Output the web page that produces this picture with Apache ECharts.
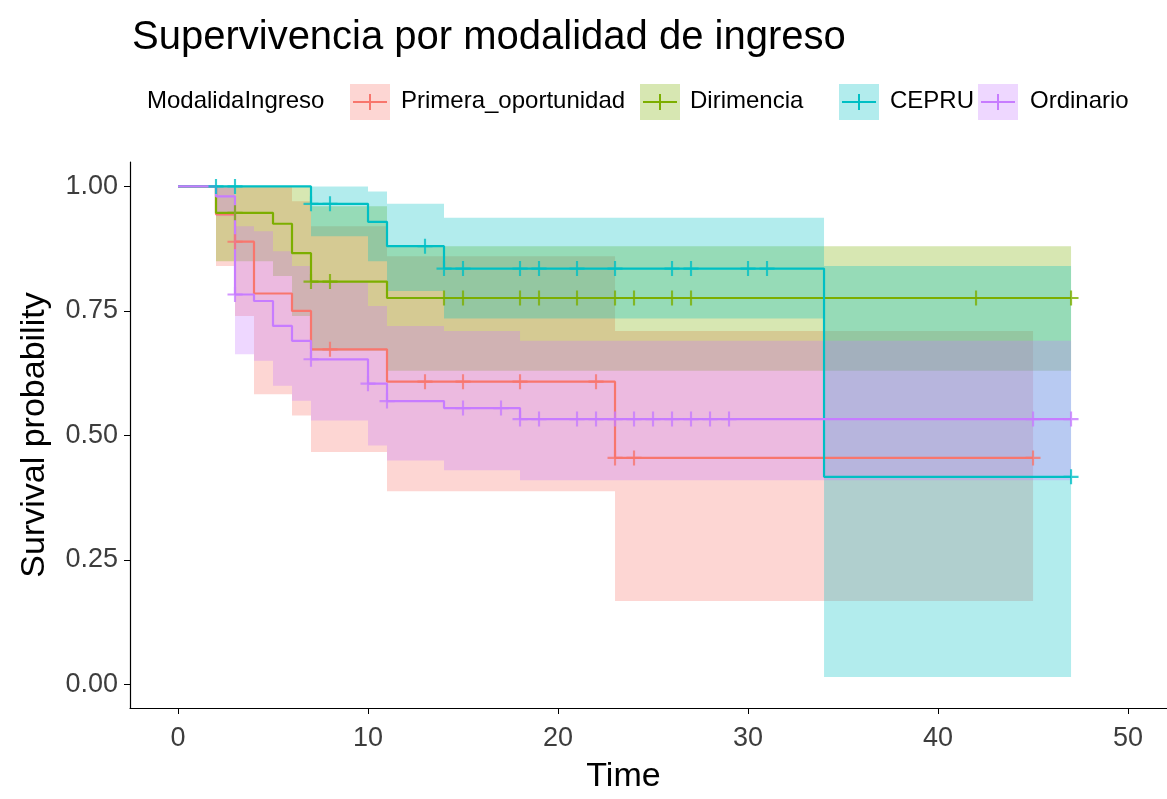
<!DOCTYPE html>
<html>
<head>
<meta charset="utf-8">
<script src="https://cdn.jsdelivr.net/npm/echarts@6/dist/echarts.min.js"></script>
<style>
html, body { margin: 0; padding: 0; background: #ffffff; }
#chart { width: 1167px; height: 799px; }
</style>
</head>
<body>
<div id="chart"></div>
<script>
// ---- Kaplan-Meier estimates by admission mode ----
const groupNames  = ['Primera_oportunidad', 'Dirimencia', 'CEPRU', 'Ordinario'];
const groupColors = ['#F8766D', '#7CAE00', '#00BFC4', '#C77CFF'];
const groupFills  = ['rgba(248,118,109,0.3)', 'rgba(124,174,0,0.3)', 'rgba(0,191,196,0.3)', 'rgba(199,124,255,0.3)'];

// Primera_oportunidad
const primeraTimes  = [0, 2, 3, 4, 6, 7, 11, 23];
const primeraSurv   = [1, 0.944, 0.889, 0.785, 0.75, 0.673, 0.608, 0.455];
const primeraLower  = [1, 0.84, 0.74, 0.583, 0.54, 0.467, 0.388, 0.168];
const primeraUpper  = [1, 1, 1, 1, 0.97, 0.92, 0.86, 0.71];
const primeraCensor = [3, 8, 13, 15, 18, 22, 23, 24, 45];
const primeraEnd    = 45;

// Dirimencia
const dirimenciaTimes  = [0, 2, 5, 6, 7, 11];
const dirimenciaSurv   = [1, 0.947, 0.925, 0.866, 0.809, 0.776];
const dirimenciaLower  = [1, 0.85, 0.82, 0.74, 0.67, 0.63];
const dirimenciaUpper  = [1, 1, 1, 1, 0.96, 0.88];
const dirimenciaCensor = [3, 7, 8, 14, 15, 18, 19, 21, 23, 24, 26, 27, 42, 47];
const dirimenciaEnd    = 47;

// CEPRU
const cepruTimes  = [0, 7, 10, 11, 14, 34];
const cepruSurv   = [1, 0.965, 0.929, 0.88, 0.835, 0.417];
const cepruLower  = [1, 0.90, 0.85, 0.79, 0.735, 0.015];
const cepruUpper  = [1, 1, 0.99, 0.965, 0.937, 0.84];
const cepruCensor = [2, 3, 7, 8, 13, 14, 15, 18, 19, 21, 23, 26, 27, 30, 31, 47];
const cepruEnd    = 47;

// Ordinario
const ordinarioTimes  = [0, 2, 3, 4, 5, 6, 7, 10, 11, 14, 18];
const ordinarioSurv   = [1, 0.98, 0.783, 0.77, 0.72, 0.69, 0.653, 0.604, 0.569, 0.555, 0.533];
const ordinarioLower  = [1, 0.94, 0.663, 0.65, 0.6, 0.57, 0.53, 0.48, 0.45, 0.43, 0.41];
const ordinarioUpper  = [1, 1, 0.92, 0.91, 0.87, 0.84, 0.81, 0.76, 0.72, 0.71, 0.69];
const ordinarioCensor = [3, 7, 10, 11, 15, 17, 18, 19, 21, 22, 23, 24, 25, 26, 27, 28, 29, 45, 47];
const ordinarioEnd    = 47;

// Axis ticks
const xTicks = [0, 10, 20, 30, 40, 50];
const yTicks = [0, 0.25, 0.5, 0.75, 1];

const groups = [
  { times: primeraTimes, surv: primeraSurv, lower: primeraLower, upper: primeraUpper, censor: primeraCensor, end: primeraEnd },
  { times: dirimenciaTimes, surv: dirimenciaSurv, lower: dirimenciaLower, upper: dirimenciaUpper, censor: dirimenciaCensor, end: dirimenciaEnd },
  { times: cepruTimes, surv: cepruSurv, lower: cepruLower, upper: cepruUpper, censor: cepruCensor, end: cepruEnd },
  { times: ordinarioTimes, surv: ordinarioSurv, lower: ordinarioLower, upper: ordinarioUpper, censor: ordinarioCensor, end: ordinarioEnd }
];

const FONT = 'Liberation Sans, Arial, Helvetica, sans-serif';
const crossPath = 'path://M6,0h2v6h6v2h-6v6h-2v-6h-6v-2h6z';

// survival value in effect at time t (step function)
function survAt(g, t) {
  let s = g.surv[0];
  for (let i = 0; i < g.times.length; i++) {
    if (g.times[i] <= t) s = g.surv[i];
  }
  return s;
}

function nextTime(g, i) {
  return i + 1 < g.times.length ? g.times[i + 1] : g.end;
}

const series = [];

// confidence ribbons
groups.forEach(function (g, gi) {
  series.push({
    type: 'custom',
    name: groupNames[gi] + ' IC',
    silent: true,
    z: 1 + gi * 0.01,
    data: [[0, 0]],
    renderItem: function (params, api) {
      const pts = [];
      for (let i = 0; i < g.times.length; i++) {
        pts.push(api.coord([g.times[i], g.upper[i]]));
        pts.push(api.coord([nextTime(g, i), g.upper[i]]));
      }
      for (let i = g.times.length - 1; i >= 0; i--) {
        pts.push(api.coord([nextTime(g, i), g.lower[i]]));
        pts.push(api.coord([g.times[i], g.lower[i]]));
      }
      return {
        type: 'polygon',
        shape: { points: pts },
        style: { fill: groupFills[gi], stroke: null }
      };
    }
  });
});

// survival step curves
groups.forEach(function (g, gi) {
  const pts = g.times.map(function (t, i) { return [t, g.surv[i]]; });
  pts.push([g.end, g.surv[g.surv.length - 1]]);
  series.push({
    type: 'line',
    name: groupNames[gi],
    step: 'end',
    data: pts,
    showSymbol: false,
    silent: true,
    z: 3,
    lineStyle: { color: groupColors[gi], width: 2.2 }
  });
});

// censoring marks
groups.forEach(function (g, gi) {
  series.push({
    type: 'scatter',
    name: groupNames[gi] + ' censura',
    data: g.censor.map(function (t) { return [t, survAt(g, t)]; }),
    symbol: crossPath,
    symbolSize: 15,
    silent: true,
    z: 4,
    itemStyle: { color: groupColors[gi] }
  });
});

// legend built from swatches, line keys and labels
const legendY = 102;
const swatchX = [350, 640, 839, 978];
const labelX  = [401, 690, 890, 1030];
const graphics = [{
  type: 'text', left: 147, top: legendY - 13,
  style: { text: 'ModalidaIngreso', font: '24px ' + FONT, fill: '#000' }
}];
groupNames.forEach(function (name, gi) {
  const x = swatchX[gi];
  graphics.push({ type: 'rect', shape: { x: x, y: legendY - 18, width: 40, height: 36 }, style: { fill: groupFills[gi] } });
  graphics.push({ type: 'line', shape: { x1: x + 3, y1: legendY, x2: x + 37, y2: legendY }, style: { stroke: groupColors[gi], lineWidth: 2 } });
  graphics.push({ type: 'line', shape: { x1: x + 20, y1: legendY - 8, x2: x + 20, y2: legendY + 8 }, style: { stroke: groupColors[gi], lineWidth: 2 } });
  graphics.push({
    type: 'text', left: labelX[gi], top: legendY - 13,
    style: { text: name, font: '24px ' + FONT, fill: '#000' }
  });
});

const chart = echarts.init(document.getElementById('chart'), null, { renderer: 'canvas' });
chart.setOption({
  animation: false,
  backgroundColor: '#ffffff',
  title: {
    text: 'Supervivencia por modalidad de ingreso',
    left: 127, top: 13,
    textStyle: { fontFamily: FONT, fontSize: 40, fontWeight: 'normal', color: '#000' }
  },
  graphic: graphics,
  grid: { left: 130, right: 0, top: 162, bottom: 80, containLabel: false },
  xAxis: {
    type: 'value',
    min: -2.526, max: 52.05,
    name: 'Time',
    nameLocation: 'middle',
    nameGap: 52,
    nameTextStyle: { fontFamily: FONT, fontSize: 34, color: '#000', padding: [0, 50, 0, 0] },
    axisLine: { show: true, onZero: false, lineStyle: { color: '#000', width: 1.2 } },
    axisTick: { show: true, length: 6, lineStyle: { color: '#000' }, customValues: xTicks },
    axisLabel: { fontFamily: FONT, fontSize: 27, color: '#3d3d3d', margin: 17, customValues: xTicks },
    splitLine: { show: false }
  },
  yAxis: {
    type: 'value',
    min: -0.047, max: 1.049,
    name: 'Survival probability',
    nameLocation: 'middle',
    nameGap: 78,
    nameRotate: 90,
    nameTextStyle: { fontFamily: FONT, fontSize: 34, color: '#000' },
    axisLine: { show: true, onZero: false, lineStyle: { color: '#000', width: 1.2 } },
    axisTick: { show: true, length: 6, lineStyle: { color: '#000' }, customValues: yTicks },
    axisLabel: {
      fontFamily: FONT, fontSize: 27, color: '#3d3d3d', margin: 12, customValues: yTicks,
      formatter: function (v) { return v.toFixed(2); }
    },
    splitLine: { show: false }
  },
  series: series
});
</script>
</body>
</html>
